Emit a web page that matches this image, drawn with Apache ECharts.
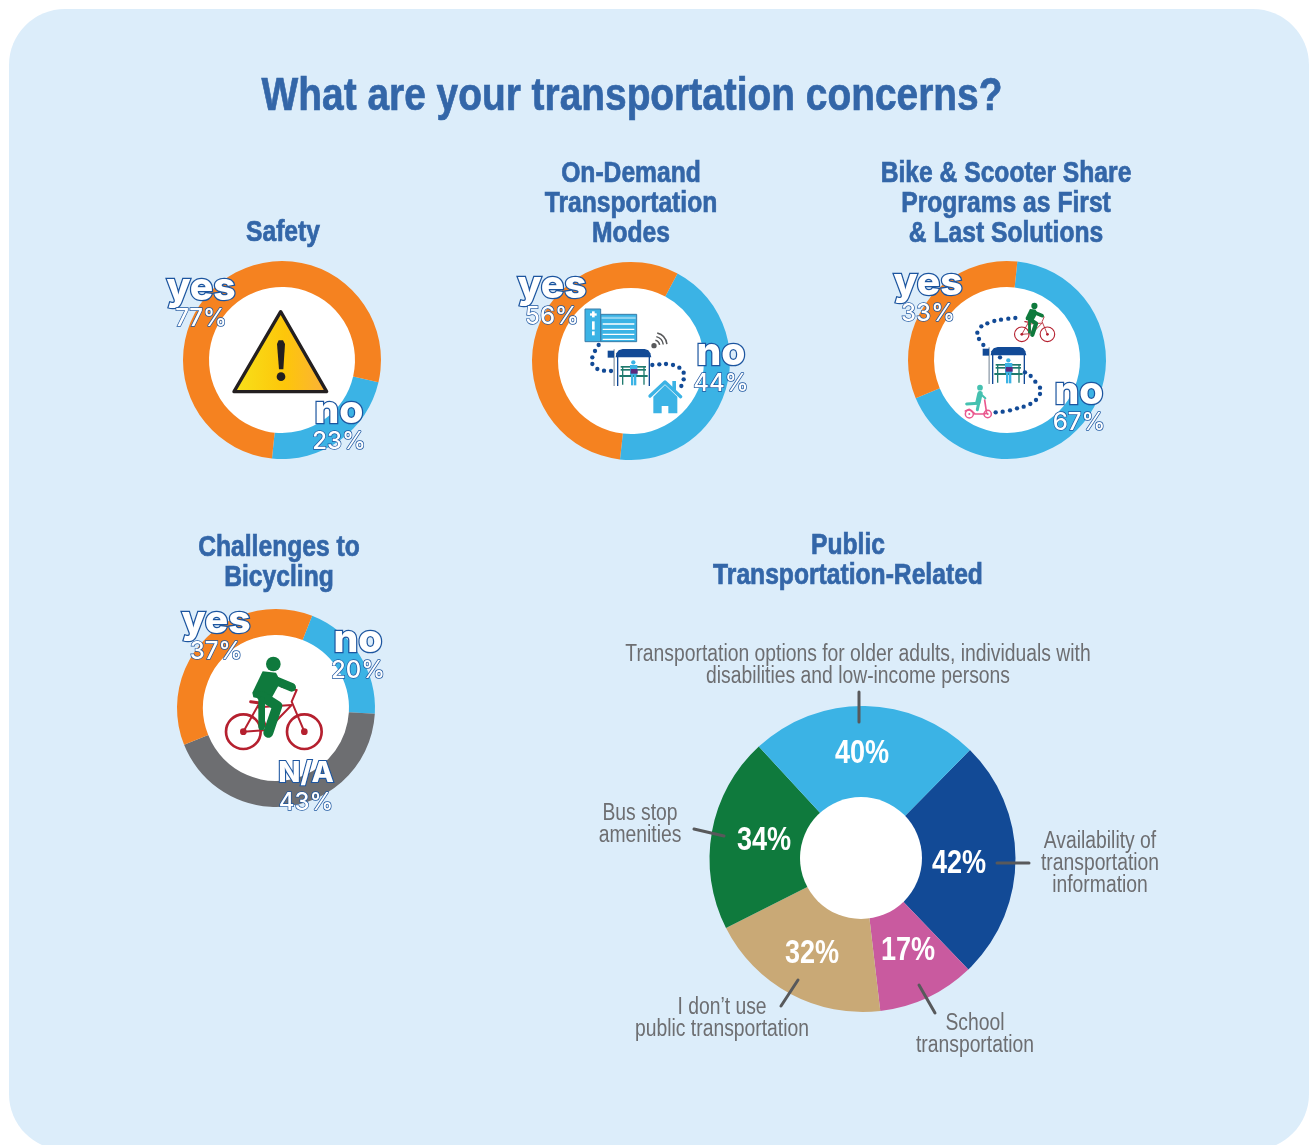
<!DOCTYPE html>
<html>
<head>
<meta charset="utf-8">
<title>What are your transportation concerns?</title>
<script src="https://cdn.jsdelivr.net/npm/echarts@6/dist/echarts.min.js"></script>
<style>
  html, body { margin: 0; background: #fff; }
  #chart { width: 1309px; height: 1145px; }
</style>
</head>
<body>
<div id="chart"></div>
<script>
// values
const safetyNames = ["no", "yes"]
const safetyValues = [23, 77]
const onDemandNames = ["no", "yes"]
const onDemandValues = [44, 56]
const bikeShareNames = ["no", "yes"]
const bikeShareValues = [67, 33]
const bicyclingNames = ["no", "N/A", "yes"]
const bicyclingValues = [20, 43, 37]
const publicNames = [
  "Availability of\ntransportation\ninformation",
  "School\ntransportation",
  "I don\u2019t use\npublic transportation",
  "Bus stop\namenities",
  "Transportation options for older adults, individuals with\ndisabilities and low-income persons",
]
const publicValues = [42, 17, 32, 34, 40]

const ORANGE = "#f58220"
const SKY = "#3bb3e5"
const GREY = "#6d6e71"
const NAVY = "#124a96"
const PINK = "#c95a9f"
const TAN = "#c9a976"
const GREEN = "#0f7a3d"
const TITLE_BLUE = "#3366a8"
const SANS = '"Liberation Sans", sans-serif'
const ROUND = 'Inter, "Open Sans", sans-serif'

const yesNoColors = { yes: ORANGE, no: SKY, "N/A": GREY }

// label centres for the ring charts, by slice name
const safetySpots = { yes: [201, 303], no: [339, 426] }
const onDemandSpots = { yes: [552, 301], no: [721, 368] }
const bikeShareSpots = { yes: [928, 298], no: [1079, 407] }
const bicyclingSpots = { yes: [216, 636], no: [358, 655], "N/A": [306, 788] }
// big pie: percent label and category label centres, by slice index
const publicPctSpots = [[959, 864], [908, 951], [812, 954], [764, 841], [862, 754]]
const publicNameSpots = [[1100, 864], [975, 1035], [722, 1019], [640, 825], [858, 666]]

function ring(center, startAngle, names, values, spots) {
  return {
    type: "pie",
    z: 2,
    silent: true,
    animation: false,
    avoidLabelOverlap: false,
    center: center,
    radius: [73, 99],
    startAngle: startAngle,
    data: names.map((n, i) => ({ name: n, value: values[i], itemStyle: { color: yesNoColors[n] } })),
    labelLine: { show: false },
    label: {
      show: true,
      position: "inside",
      formatter: (p) => (p.name === "N/A" ? `{na|${p.name}}` : `{n|${p.name}}`) + `\n{p|${p.value}%}`,
      rich: {
        n: {
          fontFamily: ROUND, fontWeight: 800, fontSize: 39, lineHeight: 32, color: "#fff",
          textBorderColor: "#1c559f", textBorderWidth: 2.5, align: "center",
        },
        na: {
          fontFamily: ROUND, fontWeight: 800, fontSize: 29, lineHeight: 30, color: "#fff",
          textBorderColor: "#1c559f", textBorderWidth: 2.2, align: "center",
        },
        p: {
          fontFamily: ROUND, fontWeight: 500, fontSize: 24, lineHeight: 30, color: "#fff",
          textBorderColor: "#1c559f", textBorderWidth: 1.4, align: "center",
        },
      },
    },
    labelLayout: (p) => {
      const s = spots[names[p.dataIndex]]
      return { x: s[0], y: s[1], align: "center", verticalAlign: "middle" }
    },
  }
}

// ---- icons, drawn in units of a 3x crop and scaled down by the group ----
const sz = (x, y, s, children) => ({ type: "group", x: x, y: y, scaleX: s, scaleY: s, children: children })
const dot = (x, y, r, fill) => ({ type: "circle", z: 1, shape: { cx: x, cy: y, r: r }, style: { fill: fill } })
const box = (x, y, w, h, fill, extra) => ({ type: "rect", z: 1, shape: { x: x, y: y, width: w, height: h }, style: Object.assign({ fill: fill }, extra) })
const line = (pts, color, w) => ({
  type: "polyline", z: 1, shape: { points: pts },
  style: { stroke: color, lineWidth: w, fill: null, lineCap: "round", lineJoin: "round" },
})
const poly = (pts, fill, extra) => ({ type: "polygon", z: 1, shape: { points: pts }, style: Object.assign({ fill: fill }, extra) })

function warningIcon() {
  return sz(150, 200, 1 / 3, [
    poly([[392, 335], [530, 575], [252, 575]], {
      type: "linear", x: 0, y: 0, x2: 1, y2: 0,
      colorStops: [{ offset: 0, color: "#f7e21b" }, { offset: 0.55, color: "#fdc60a" }, { offset: 1, color: "#fbb03b" }],
    }, { stroke: "#231f20", lineWidth: 10, lineJoin: "round" }),
    poly([[381, 432], [386, 421], [399, 421], [405, 432], [400, 508], [387, 508]], "#231f20"),
    dot(393, 530, 13, "#231f20"),
  ])
}

function shelterIcon(x, y) {
  const bench = "#1f7a6e"
  return sz(x, y, 1 / 3, [
    box(100, 148, 5, 110, "#a8b3bd"),
    box(83, 152, 19, 21, NAVY),
    box(111, 168, 4, 90, NAVY),
    box(206, 168, 4, 90, NAVY),
    poly([[107, 172], [109, 160], [116, 151], [128, 147], [194, 147], [205, 151], [211, 160], [214, 172]], NAVY),
    box(122, 198, 76, 5, bench),
    box(122, 207, 76, 5, bench),
    box(118, 225, 85, 6, bench),
    box(126, 198, 4, 56, bench),
    box(190, 198, 4, 56, bench),
    dot(160, 187, 6.5, SKY),
    box(150, 195, 22, 30, SKY),
    box(153, 225, 7, 31, SKY),
    box(162, 225, 7, 31, SKY),
    box(152, 207, 21, 14, "#5b2a7e"),
  ])
}

function bikeIcon(x, y, s) {
  const red = "#b5202f"
  return sz(x, y, s, [
    { type: "circle", z: 1, shape: { cx: 70, cy: 245, r: 52 }, style: { fill: null, stroke: red, lineWidth: 8 } },
    { type: "circle", z: 1, shape: { cx: 253, cy: 245, r: 52 }, style: { fill: null, stroke: red, lineWidth: 8 } },
    dot(70, 245, 10, red),
    dot(253, 245, 10, red),
    line([[70, 245], [115, 165], [142, 240], [215, 165], [115, 172]], red, 6),
    line([[70, 245], [142, 240]], red, 6),
    line([[253, 245], [215, 155], [230, 120], [185, 110]], red, 6),
    line([[92, 155], [125, 160]], red, 9),
    dot(160, 42, 22, GREEN),
    line([[150, 85], [215, 112]], GREEN, 26),
    poly([[128, 64], [168, 68], [182, 95], [150, 152], [100, 142], [97, 128]], GREEN),
    line([[125, 138], [172, 168], [145, 248]], GREEN, 30),
    line([[125, 150], [125, 230]], GREEN, 20),
  ])
}

function hospitalIcon() {
  const whites = [72, 88, 103, 118].map((yy) => box(68, yy - 2, 95, 4, "#fff"))
  return sz(580, 300, 1 / 3, [
    box(62, 43, 108, 82, SKY, { stroke: "#3a7ca8", lineWidth: 3 }),
    box(15, 27, 47, 98, SKY, { stroke: "#3a7ca8", lineWidth: 3 }),
    box(65, 50, 102, 7, "#8ed3f0"),
    box(36, 34, 8, 18, "#fff"),
    box(30, 40, 20, 7, "#fff"),
    box(36, 64, 8, 25, "#fff"),
    box(36, 94, 8, 12, "#fff"),
  ].concat(whites))
}

function wifiIcon() {
  const arc = (r) => ({
    type: "arc", z: 1,
    shape: { cx: 222, cy: 137, r: r, startAngle: -Math.PI * 0.42, endAngle: -Math.PI * 0.04, clockwise: true },
    style: { stroke: "#58595b", lineWidth: 4.5, fill: null },
  })
  return sz(580, 300, 1 / 3, [dot(222, 137, 8, "#58595b"), arc(17), arc(28), arc(39)])
}

function houseIcon() {
  return sz(580, 300, 1 / 3, [
    box(277, 243, 11, 28, SKY),
    poly([[255, 255], [292, 290], [292, 340], [265, 340], [265, 318], [245, 318], [245, 340], [220, 340], [220, 290]], SKY),
    line([[210, 288], [255, 246], [302, 290]], SKY, 10),
  ])
}

function scooterIcon() {
  const pink = "#e9588e"
  const teal = "#45c1b0"
  return sz(960, 295, 1 / 3, [
    { type: "circle", z: 1, shape: { cx: 28, cy: 357, r: 12 }, style: { fill: null, stroke: pink, lineWidth: 4.5 } },
    { type: "circle", z: 1, shape: { cx: 83, cy: 357, r: 11 }, style: { fill: null, stroke: pink, lineWidth: 4.5 } },
    dot(28, 357, 3, pink),
    dot(83, 357, 3, pink),
    line([[16, 348], [28, 343], [45, 357], [68, 357], [80, 355], [74, 315]], pink, 5),
    dot(60, 278, 8.5, teal),
    line([[60, 296], [54, 322]], teal, 16),
    line([[62, 297], [76, 310]], teal, 6),
    line([[55, 325], [20, 327]], teal, 9),
    line([[56, 325], [52, 344]], teal, 9),
  ])
}

const onDemandDots = [
  [56, 135], [45, 153], [37, 172], [37, 192], [52, 207], [72, 212], [93, 213],
  [217, 195], [238, 193], [258, 192], [279, 195], [298, 203], [311, 218], [311, 238], [304, 258],
]
const bikeShareDots = [
  [166, 69], [145, 71], [123, 74], [103, 78], [82, 85], [64, 94], [52, 113], [57, 132], [70, 150], [120, 187],
  [195, 232], [212, 243], [226, 260], [240, 278], [240, 297], [228, 315], [211, 327], [191, 335], [171, 340],
  [150, 346], [128, 350], [107, 352],
]

// short leader ticks on the big pie
const publicTicks = [
  [[997, 863], [1029, 863]],
  [[919, 985], [935, 1013]],
  [[798, 980], [781, 1006]],
  [[694, 829], [724, 836]],
  [[859, 692], [859, 722]],
]

// no condensed face is installed, so condensed text is squeezed with scaleX
const squeezed = (text, x, y, opts) => ({
  type: "text",
  z: 7,
  x: x,
  y: y,
  scaleX: opts.squeeze,
  style: {
    text: text,
    fill: opts.fill,
    stroke: opts.heavy ? opts.fill : null,
    lineWidth: opts.heavy || 0,
    textAlign: "center",
    textVerticalAlign: "middle",
    font: `${opts.weight || "normal"} ${opts.size}px ${SANS}`,
    lineHeight: opts.lineHeight,
  },
})

const heading = (text, x, y, size, squeeze) =>
  squeezed(text, x, y, { size: size, squeeze: squeeze, weight: "bold", fill: TITLE_BLUE, lineHeight: size + 1, heavy: 0.7 })

const publicCaptions = publicNames.map((n, i) =>
  squeezed(n, publicNameSpots[i][0], publicNameSpots[i][1], { size: 23, squeeze: 0.84, fill: GREY, lineHeight: 22 }))

const publicPercents = publicValues.map((v, i) =>
  squeezed(v + "%", publicPctSpots[i][0], publicPctSpots[i][1], { size: 33, squeeze: 0.82, weight: "bold", fill: "#fff" }))

const chart = echarts.init(document.getElementById("chart"), null, { renderer: "canvas" })

const ringHoles = [[282, 360], [631, 361], [1007, 360], [276, 708]].map((c) => dot(c[0], c[1], 74, "#fff"))

chart.setOption({
  animation: false,
  graphic: {
    elements: [
      { type: "rect", z: 0, shape: { x: 9, y: 9, width: 1300, height: 1141, r: 56 }, style: { fill: "#dcedfa" } },
      ...ringHoles,
      Object.assign(dot(861, 858, 61, "#fff"), { z: 5 }),
      warningIcon(),
      hospitalIcon(),
      wifiIcon(),
      sz(580, 300, 1 / 3, onDemandDots.map((d) => dot(d[0], d[1], 6.5, NAVY))),
      shelterIcon(580, 300),
      houseIcon(),
      sz(960, 295, 1 / 3, bikeShareDots.map((d) => dot(d[0], d[1], 6.5, NAVY))),
      shelterIcon(955, 298),
      bikeIcon(1012, 300, 0.14),
      scooterIcon(),
      bikeIcon(220, 650, 1 / 3),
      ...publicTicks.map((t) => Object.assign(line(t, "#58595b", 3), { z: 6 })),
      heading("What are your transportation concerns?", 632, 97, 47, 0.827),
      heading("Safety", 283, 233, 29, 0.85),
      heading("On-Demand\nTransportation\nModes", 631, 204, 29, 0.85),
      heading("Bike & Scooter Share\nPrograms as First\n& Last Solutions", 1006, 204, 29, 0.85),
      heading("Challenges to\nBicycling", 279, 563, 29, 0.85),
      heading("Public\nTransportation-Related", 848, 561, 29, 0.85),
      ...publicCaptions,
      ...publicPercents,
    ],
  },
  series: [
    ring([282, 360], -13, safetyNames, safetyValues, safetySpots),
    ring([631, 361], 62, onDemandNames, onDemandValues, onDemandSpots),
    ring([1007, 360], 84, bikeShareNames, bikeShareValues, bikeShareSpots),
    ring([276, 708], 68.6, bicyclingNames, bicyclingValues, bicyclingSpots),
    {
      type: "pie",
      z: 2,
      silent: true,
      animation: false,
      center: [862.5, 859],
      radius: [58, 153],
      startAngle: 45.4,
      color: [NAVY, PINK, TAN, GREEN, SKY],
      data: publicNames.map((n, i) => ({ name: n, value: publicValues[i] })),
      labelLine: { show: false },
      label: { show: false },
    },
  ],
})
</script>
</body>
</html>
